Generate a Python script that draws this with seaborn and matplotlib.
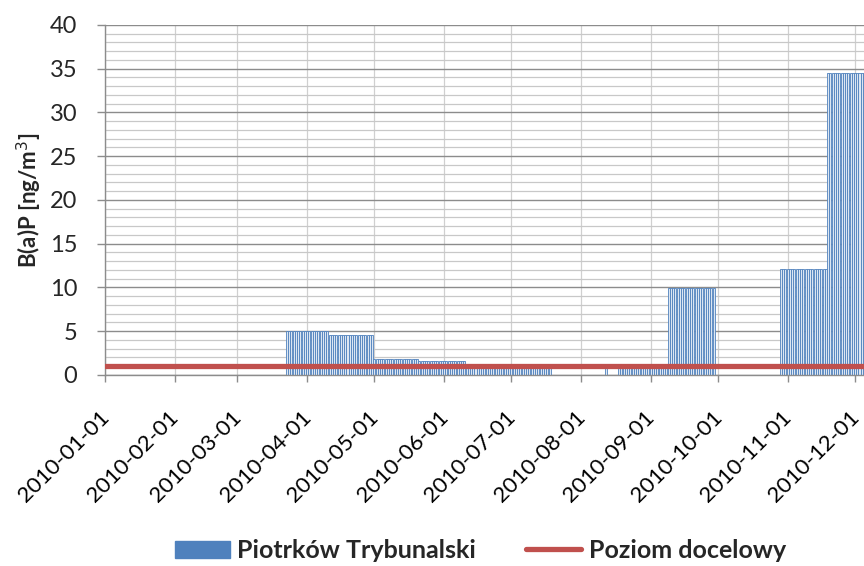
import matplotlib
matplotlib.use("Agg")
import matplotlib.pyplot as plt
import matplotlib.dates as mdates
import matplotlib.transforms as mtransforms
from matplotlib.ticker import MultipleLocator
from matplotlib.lines import Line2D
from matplotlib.patches import Patch
import seaborn as sns
import pandas as pd

sns.set_theme(style="white")
plt.rcParams['font.family'] = ['Lato', 'DejaVu Sans']

# blocks of constant daily values
block_start = ["2010-03-23", "2010-04-11", "2010-05-01", "2010-05-21", "2010-06-11",
               "2010-08-12", "2010-08-18", "2010-09-09", "2010-10-29", "2010-11-19"]
block_end = ["2010-04-10", "2010-04-30", "2010-05-20", "2010-06-10", "2010-07-18",
             "2010-08-12", "2010-09-08", "2010-09-29", "2010-11-18", "2010-12-06"]
block_value = [5.0, 4.6, 1.8, 1.6, 0.8, 0.8, 0.8, 9.9, 12.1, 34.5]
target_level = 1.0
series_name = "Piotrków Trybunalski"
target_name = "Poziom docelowy"
month_ticks = pd.date_range("2010-01-01", "2010-12-01", freq="MS")

rows = []
for s, e, v in zip(block_start, block_end, block_value):
    for d in pd.date_range(s, e, freq="D"):
        rows.append({"date": d, "bap": v})
data = pd.DataFrame(rows)
data["x"] = mdates.date2num(data["date"])

bar_blue = "#4f81bd"
red = "#c0504d"

fig = plt.figure(figsize=(8.64, 5.66), dpi=100)
ax = fig.add_axes([0.1215, 0.3375, 0.8785, 0.6185])

ax.set_axisbelow(True)
ax.yaxis.set_major_locator(MultipleLocator(5))
ax.yaxis.set_minor_locator(MultipleLocator(1))
ax.grid(which="major", axis="y", color="#8c8c8c", linewidth=1.0)
ax.grid(which="minor", axis="y", color="#c8c8c8", linewidth=0.9)
ax.grid(which="major", axis="x", color="#d0d0d0", linewidth=0.9)

sns.barplot(data=data, x="x", y="bap", native_scale=True, errorbar=None,
            color="#dce6f2", edgecolor=bar_blue, linewidth=0.6, width=0.9,
            saturation=1, ax=ax)

ax.axhline(target_level, color=red, linewidth=3.8, zorder=5)

ax.set_xticks(mdates.date2num(month_ticks))
ax.xaxis.set_major_formatter(mdates.DateFormatter("%Y-%m-%d"))
ax.set_xlim(mdates.date2num(pd.Timestamp("2010-01-01")), mdates.date2num(pd.Timestamp("2010-12-05")))
ax.set_ylim(0, 40)

ax.tick_params(axis="x", labelsize=16, length=5, width=1,
               direction="out", bottom=True, pad=18, labelcolor="black", color="#8c8c8c")
ax.tick_params(axis="y", which="major", labelsize=17, length=6, width=1,
               direction="out", left=True, pad=14, color="#8c8c8c", labelcolor="#262626")
ax.tick_params(axis="y", which="minor", length=0)

shift = mtransforms.ScaledTranslation(-6 / 100, 0, fig.dpi_scale_trans)
for lab in ax.get_xticklabels():
    lab.set_rotation(45)
    lab.set_ha("right")
    lab.set_rotation_mode("anchor")
    lab.set_transform(lab.get_transform() + shift)

for side in ["top", "right"]:
    ax.spines[side].set_visible(False)
for side in ["left", "bottom"]:
    ax.spines[side].set_color("#8c8c8c")
    ax.spines[side].set_linewidth(1)

ax.set_xlabel("")
ax.set_ylabel("B(a)P [ng/m$^3$]", fontsize=16, fontweight="bold", labelpad=4)

handles = [Patch(facecolor=bar_blue, edgecolor=bar_blue),
           Line2D([0], [0], color=red, linewidth=3.8)]
fig.legend(handles, [series_name, target_name], loc="center", ncol=2,
           bbox_to_anchor=(0.556, 0.027), frameon=False,
           prop={"size": 18, "weight": "bold"}, handlelength=2.2,
           handletextpad=0.3, columnspacing=2.0)

fig.savefig("out.png", dpi=100)
